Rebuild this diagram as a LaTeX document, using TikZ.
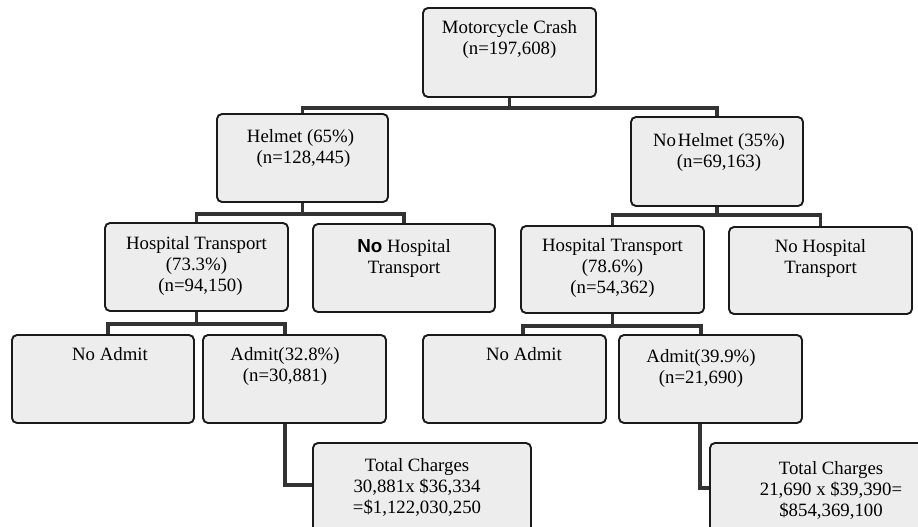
\documentclass[tikz,border=0pt]{standalone}
\usepackage{fontspec}
\setmainfont{Liberation Serif}
\newfontfamily\nofont{Liberation Sans}
\usetikzlibrary{positioning}
\definecolor{boxfill}{HTML}{EDEDED}
\definecolor{boxline}{HTML}{1A1A1A}
\definecolor{linkgray}{HTML}{333333}
\tikzstyle{stage} = [
  draw=boxline,
  fill=boxfill,
  rounded corners=5pt,
  line width=1.9pt,
  inner sep=0pt,
]
\tikzstyle{caption} = [
  align=center,
  inner sep=0pt,
  anchor=north,
  font=\fontsize{18.8}{21}\selectfont,
]
\tikzstyle{link} = [
  draw=linkgray,
  line width=3.8pt,
]

\begin{document}
\begin{tikzpicture}[
    x=1pt,
    y=-1pt,
  ]
  \useasboundingbox (0,0) rectangle (918,527);
  \clip (0,0) rectangle (918,527);
  % boxes
  \node[stage, minimum width=173pt, minimum height=89pt]
    (crash) at (509.5,52.5) {};
  \node[stage, minimum width=171pt, minimum height=88pt]
    (helmet) at (302.5,158) {};
  \node[stage, minimum width=172pt, minimum height=89pt]
    (nohelmet) at (717,161.5) {};
  \node[stage, minimum width=183pt, minimum height=88pt]
    (hosp1) at (196.5,267) {};
  \node[stage, minimum width=182pt, minimum height=88pt]
    (nohosp1) at (404,268) {};
  \node[stage, minimum width=183pt, minimum height=87pt]
    (hosp2) at (612.5,269.5) {};
  \node[stage, minimum width=183pt, minimum height=87pt]
    (nohosp2) at (820.5,270.5) {};
  \node[stage, minimum width=182pt, minimum height=88pt]
    (noadmit1) at (103,379) {};
  \node[stage, minimum width=183pt, minimum height=88pt]
    (admit1) at (294.5,379) {};
  \node[stage, minimum width=183pt, minimum height=88pt]
    (noadmit2) at (514.5,379) {};
  \node[stage, minimum width=183pt, minimum height=88pt]
    (admit2) at (710.5,379) {};
  \node[stage, minimum width=218pt, minimum height=100pt]
    (charges1) at (422,493) {};
  \node[stage, minimum width=242pt, minimum height=100pt]
    (charges2) at (831,493) {};
  % texts
  \node[caption, below=13.5pt of crash.north]
    (crash-t) {Motorcycle Crash\\(n=197,608)};
  \node[caption, below=16pt of helmet.north, xshift=-2pt]
    (helmet-t) {Helmet (65\%)\\\hspace*{6pt}(n=128,445)};
  \node[caption, below=17pt of nohelmet.north, xshift=2pt]
    (nohelmet-t) {No\hspace{2pt}Helmet (35\%)\\(n=69,163)};
  \node[caption, below=14pt of hosp1.north]
    (hosp1-t) {Hospital Transport\\(73.3\%)\\\hspace*{8pt}(n=94,150)};
  \node[caption, below=16pt of nohosp1.north]
    (nohosp1-t) {{\nofont\bfseries No} Hospital\\Transport};
  \node[caption, below=13.5pt of hosp2.north]
    (hosp2-t) {Hospital Transport\\(78.6\%)\\(n=54,362)};
  \node[caption, below=13.5pt of nohosp2.north]
    (nohosp2-t) {No Hospital\\Transport};
  \node[caption, below=13pt of noadmit1.north, xshift=7pt]
    (noadmit1-t) {No Admit};
  \node[caption, below=13pt of admit1.north, xshift=-9.5pt]
    (admit1-t) {Admit(32.8\%)\\(n=30,881)};
  \node[caption, below=13pt of noadmit2.north, xshift=9.5pt]
    (noadmit2-t) {No Admit};
  \node[caption, below=15pt of admit2.north, xshift=-9.5pt]
    (admit2-t) {Admit(39.9\%)\\(n=21,690)};
  \node[caption, below=16pt of charges1.north, xshift=-5pt]
    (charges1-t) {Total Charges\\30,881x \$36,334\\=\$1,122,030,250};
  \node[caption, below=19pt of charges2.north]
    (charges2-t) {Total Charges\\21,690 x \$39,390=\\\$854,369,100};
  % connectors
  \foreach \from/\to/\drop/\shift in {
      crash/helmet/10/0, crash/nohelmet/10/0,
      helmet/hosp1/11/0, helmet/nohosp1/11/0,
      nohelmet/hosp2/8/0, nohelmet/nohosp2/8/0,
      hosp1/noadmit1/12/5, hosp1/admit1/12/-9.5,
      hosp2/noadmit2/12/8.5, hosp2/admit2/12/-9.5}
    \draw[link] (\from.south) -- ++(0,\drop) -| ([xshift=\shift pt]\to.north);
  \draw[link] ([xshift=-9.5pt]admit1.south) |- ([yshift=8pt]charges1.west);
  \draw[link] ([xshift=-10.5pt]admit2.south) |- ([yshift=5pt]charges2.west);
\end{tikzpicture}
\end{document}
